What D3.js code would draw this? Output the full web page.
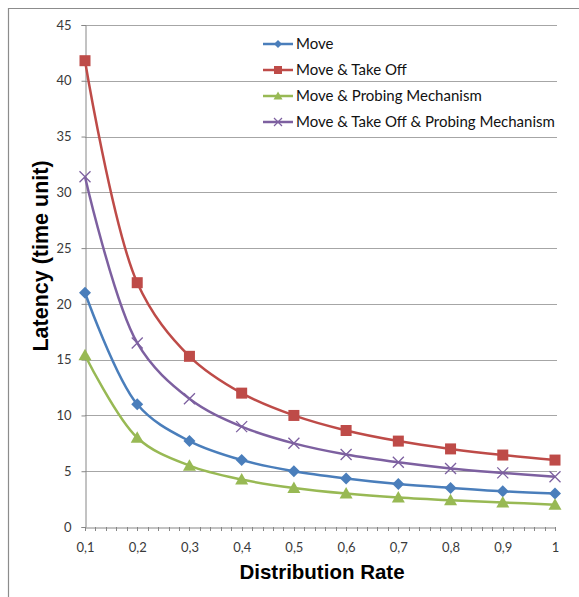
<!DOCTYPE html>
<html><head><meta charset="utf-8">
<script src="https://cdn.jsdelivr.net/npm/d3@7"></script>
<style>body{margin:0;background:#fff}svg{display:block}</style>
</head><body>
<svg id="c" width="579" height="597"></svg>
<script>
const categories = ["0,1","0,2","0,3","0,4","0,5","0,6","0,7","0,8","0,9","1"];
const moveVals = [21, 11, 7.7, 6, 5, 4.35, 3.85, 3.5, 3.2, 3];
const takeOffVals = [41.8, 21.9, 15.3, 12, 10, 8.65, 7.7, 7, 6.45, 6];
const probingVals = [15.4, 8, 5.5, 4.25, 3.5, 3, 2.65, 2.4, 2.2, 2];
const takeOffProbingVals = [31.4, 16.5, 11.5, 9, 7.5, 6.5, 5.8, 5.25, 4.85, 4.5];
const yTicks = [0,5,10,15,20,25,30,35,40,45];
const seriesNames = ["Move","Move & Take Off","Move & Probing Mechanism","Move & Take Off & Probing Mechanism"];
const seriesColors = ["#4a7ebb","#be4b48","#98b954","#7d60a0"];
const seriesMarkers = ["diamond","square","triangle","x"];
const seriesData = [moveVals, takeOffVals, probingVals, takeOffProbingVals];

const svg = d3.select("#c");
const L = 85, R = 555, T = 25, B = 527;
const x = d3.scalePoint().domain(categories).range([L, R]);
const y = d3.scaleLinear().domain([0,45]).range([B, T]);

// outer frame (top & left)
svg.append("path").attr("d","M8.5,597 L8.5,8.5 L579,8.5").attr("fill","none").attr("stroke","#8c8c8c").attr("stroke-width",1.2);

// gridlines
svg.append("g").selectAll("line").data(yTicks.filter(d=>d>0)).join("line")
  .attr("x1",L).attr("x2",R+2).attr("y1",d=>Math.round(y(d))+0.5).attr("y2",d=>Math.round(y(d))+0.5)
  .attr("stroke","#a6a6a6").attr("stroke-width",1);

// y axis
const yAxis = d3.axisLeft(y).tickValues(yTicks).tickSize(4).tickPadding(10).tickFormat(d3.format("d"));
const gy = svg.append("g").attr("transform",`translate(${L+0.5},0)`).call(yAxis);
gy.select(".domain").attr("stroke","#868686");
gy.selectAll(".tick line").attr("stroke","#868686");
gy.selectAll("text").attr("font-family","Lato, 'Open Sans', sans-serif").attr("font-size",13).attr("fill","#3a3a3a");

// x axis
const xAxis = d3.axisBottom(x).tickSize(0).tickPadding(15);
const gx = svg.append("g").attr("transform",`translate(0,${B+0.5})`).call(xAxis);
gx.select(".domain").attr("stroke","#868686");
gx.selectAll("text").attr("font-family","Lato, 'Open Sans', sans-serif").attr("font-size",13).attr("fill","#3a3a3a");
// minor ticks (5 per category)
const step = x.step();
const minor = d3.range(0, (categories.length-1)*5+1).map(i => L + i*step/5);
svg.append("g").selectAll("line").data(minor).join("line")
  .attr("x1",d=>Math.round(d)+0.5).attr("x2",d=>Math.round(d)+0.5).attr("y1",B).attr("y2",B+4)
  .attr("stroke","#868686");

// axis titles
svg.append("text").attr("transform",`translate(48,256) rotate(-90)`).attr("text-anchor","middle")
  .attr("font-family","Liberation Sans, Arial, sans-serif").attr("font-weight","bold").attr("font-size",21.5)
  .text("Latency (time unit)");
svg.append("text").attr("x",322).attr("y",579).attr("text-anchor","middle")
  .attr("font-family","Liberation Sans, Arial, sans-serif").attr("font-weight","bold").attr("font-size",20.5)
  .text("Distribution Rate");

// series
const line = d3.line().x((d,i)=>x(categories[i])).y(d=>y(d)).curve(d3.curveCatmullRom.alpha(0.5));
function marker(g, type, color, cx, cy){
  if(type==="diamond"){
    g.append("path").attr("d",`M${cx},${cy-6} L${cx+6},${cy} L${cx},${cy+6} L${cx-6},${cy} Z`).attr("fill",color);
  } else if(type==="square"){
    g.append("rect").attr("x",cx-5.5).attr("y",cy-5.5).attr("width",11).attr("height",11).attr("fill",color);
  } else if(type==="triangle"){
    g.append("path").attr("d",`M${cx},${cy-6.5} L${cx+6.5},${cy+5} L${cx-6.5},${cy+5} Z`).attr("fill",color);
  } else {
    g.append("path").attr("d",`M${cx-5.5},${cy-5.5} L${cx+5.5},${cy+5.5} M${cx-5.5},${cy+5.5} L${cx+5.5},${cy-5.5}`)
      .attr("stroke",color).attr("stroke-width",1.3).attr("fill","none");
  }
}
[0,1,2,3].forEach(k=>{
  const g = svg.append("g");
  g.append("path").datum(seriesData[k]).attr("d",line).attr("fill","none")
    .attr("stroke",seriesColors[k]).attr("stroke-width",2.5);
  seriesData[k].forEach((v,i)=>marker(g, seriesMarkers[k], seriesColors[k], x(categories[i]), y(v)));
});

// legend
const lg = svg.append("g");
seriesNames.forEach((n,k)=>{
  const cy = 44 + k*26;
  lg.append("line").attr("x1",263).attr("x2",293).attr("y1",cy).attr("y2",cy).attr("stroke",seriesColors[k]).attr("stroke-width",2.5);
  const g = lg.append("g");
  if(seriesMarkers[k]==="diamond") g.append("path").attr("d",`M278,${cy-4} L282,${cy} L278,${cy+4} L274,${cy} Z`).attr("fill",seriesColors[k]);
  else if(seriesMarkers[k]==="square") g.append("rect").attr("x",274).attr("y",cy-4).attr("width",8).attr("height",8).attr("fill",seriesColors[k]);
  else if(seriesMarkers[k]==="triangle") g.append("path").attr("d",`M278,${cy-4.5} L282.5,${cy+3.5} L273.5,${cy+3.5} Z`).attr("fill",seriesColors[k]);
  else g.append("path").attr("d",`M274,${cy-4} L282,${cy+4} M274,${cy+4} L282,${cy-4}`).attr("stroke",seriesColors[k]).attr("stroke-width",1.2);
  lg.append("text").attr("x",296).attr("y",cy+5).attr("font-family","Lato, 'Open Sans', sans-serif").attr("font-size",15).attr("fill","#111").text(n);
});
</script>
</body></html>
